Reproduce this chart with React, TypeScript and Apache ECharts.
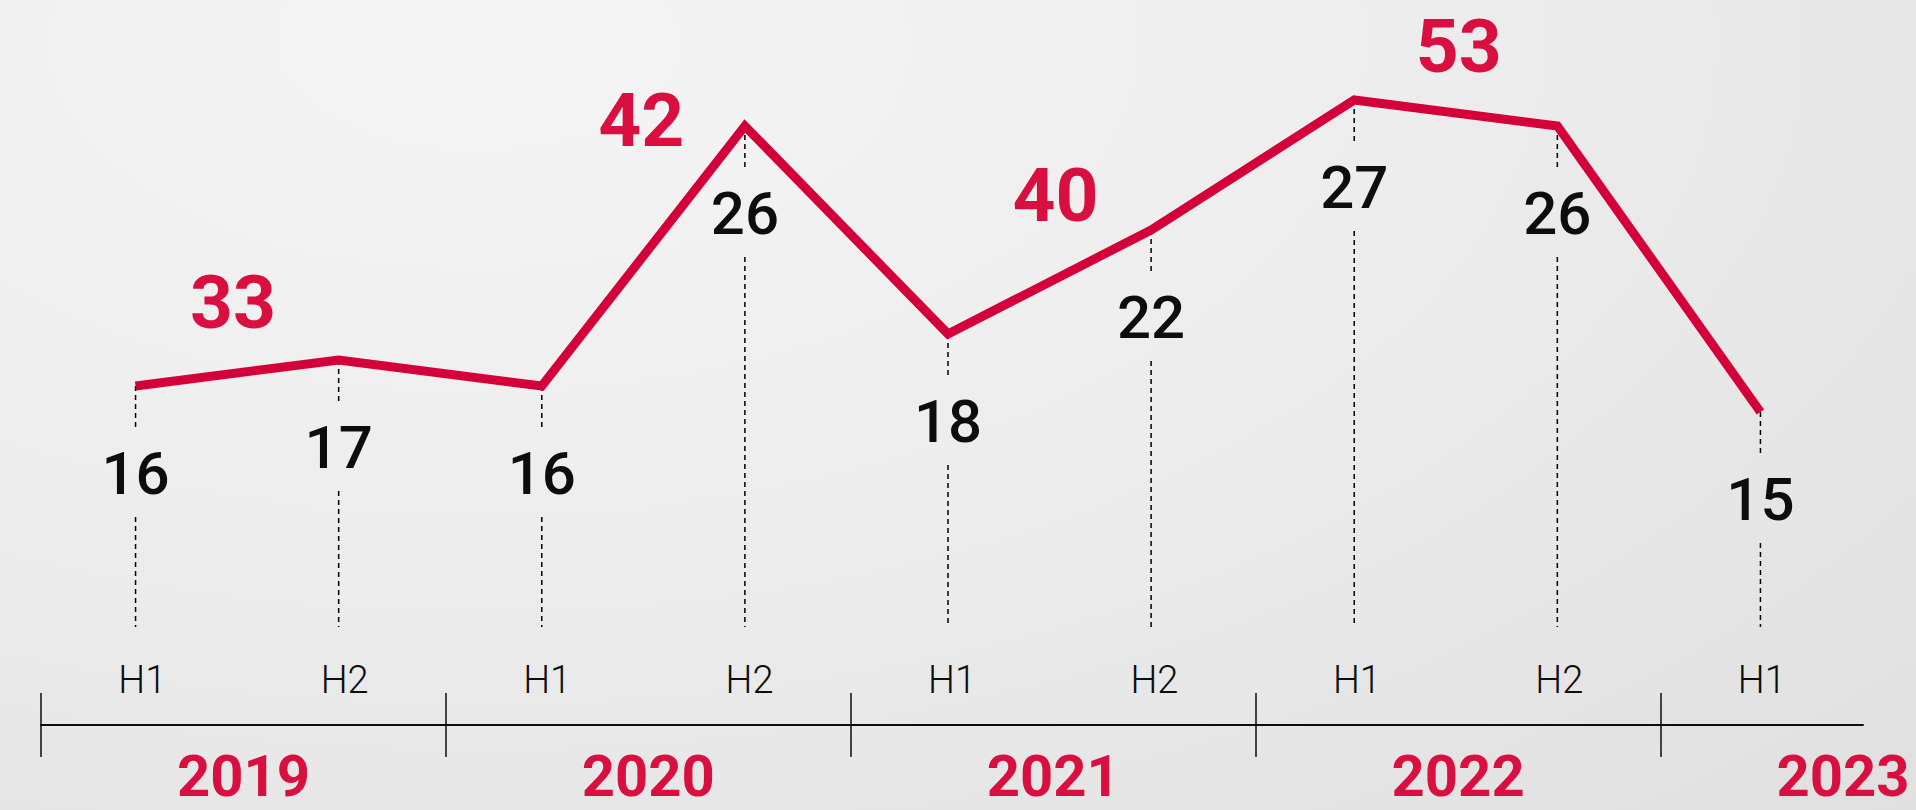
import React, { useEffect, useRef } from "react";
import * as echarts from "echarts";

// ---- data ----
const halfLabels = ["H1", "H2", "H1", "H2", "H1", "H2", "H1", "H2", "H1"];
const halfValues = [16, 17, 16, 26, 18, 22, 27, 26, 15];
const years = ["2019", "2020", "2021", "2022", "2023"];
const yearTotals = [33, 42, 40, 53];

// ---- style / layout ----
const RED_LINE = "#d4003a";
const RED_TEXT = "#d80f3f";
const INK = "#0d0d0d";
const totalLabelOffsets = [
  [-4, -71],
  [-2, -136],
  [6, -87],
  [3, -67],
];
const BASE_Y = 627; // where dashed drop lines end
const LABEL_DY = 87; // value label centre below the point
const GAP = 44; // half gap in dashed line around the label
const FONT = "Roboto, 'Noto Sans', sans-serif";

export default function App() {
  const ref = useRef<HTMLDivElement>(null);

  useEffect(() => {
    document.body.style.margin = "0";
    const chart = echarts.init(ref.current!, null, { renderer: "svg" });

    const pointData = halfValues.map((v, i) => [i, v]);
    const totalData = yearTotals.map((t, k) => ({
      value: [2 * k + 0.5, (halfValues[2 * k] + halfValues[2 * k + 1]) / 2, t],
      label: { offset: totalLabelOffsets[k] },
    }));

    const yearLabelStyle = {
      fontSize: 58,
      fontWeight: "bold",
      color: RED_TEXT,
      fontFamily: FONT,
    };

    chart.setOption({
      animation: false,
      grid: [
        { left: 34, right: 54, top: 22, bottom: 8 },
        { left: 41, right: 53, top: 693, bottom: 53 },
        { left: 41, right: 53, top: 700, bottom: 56 },
      ],
      xAxis: [
        { type: "category", gridIndex: 0, data: halfLabels, boundaryGap: true, show: false },
        { type: "value", gridIndex: 0, min: -0.5, max: 8.5, show: false },
        {
          type: "category",
          gridIndex: 1,
          data: halfLabels,
          position: "bottom",
          offset: -32,
          axisLine: { show: true, lineStyle: { color: INK, width: 2 } },
          axisTick: { show: false },
          axisLabel: {
            inside: true,
            margin: 26,
            color: INK,
            fontSize: 38,
            fontWeight: 300,
            fontFamily: "'Liberation Sans Narrow', " + FONT,
          },
          splitLine: {
            show: true,
            showMaxLine: false,
            interval: (i: number) => i % 2 === 0,
            lineStyle: { color: INK, width: 1.5 },
          },
        },
        {
          type: "value",
          gridIndex: 2,
          min: 0,
          max: 9,
          interval: 1,
          position: "bottom",
          axisLine: { show: false },
          axisTick: { show: false },
          splitLine: { show: false },
          axisLabel: {
            margin: -7,
            showMinLabel: true,
            showMaxLabel: true,
            hideOverlap: false,
            ...yearLabelStyle,
            formatter: (v: number) => {
              const k = (v - 1) / 2;
              if (!Number.isInteger(k) || k < 0 || k >= years.length) return "";
              return k === years.length - 1 ? `{last|${years[k]}}` : `{y|${years[k]}}`;
            },
            rich: {
              y: { ...yearLabelStyle },
              last: { ...yearLabelStyle, padding: [0, 40, 0, 0] },
            },
          },
        },
      ],
      yAxis: [
        { type: "value", gridIndex: 0, min: 0, max: 30, show: false },
        { type: "value", gridIndex: 1, min: 0, max: 1, show: false },
        { type: "value", gridIndex: 2, min: 0, max: 1, show: false },
      ],
      series: [
        {
          type: "custom",
          xAxisIndex: 0,
          yAxisIndex: 0,
          z: 1,
          silent: true,
          data: pointData,
          encode: { x: 0, y: 1 },
          renderItem: (_params: any, api: any) => {
            const idx = api.value(0);
            const val = api.value(1);
            const pt = api.coord([idx, val]);
            const x = pt[0];
            const y = pt[1];
            const yc = y + LABEL_DY;
            const dash = { stroke: "#000", lineWidth: 1.5, lineDash: [5, 4] };
            return {
              type: "group",
              children: [
                { type: "line", shape: { x1: x, y1: y, x2: x, y2: yc - GAP }, style: dash },
                { type: "line", shape: { x1: x, y1: yc + GAP, x2: x, y2: BASE_Y }, style: dash },
                {
                  type: "text",
                  x,
                  y: yc,
                  style: {
                    text: String(val),
                    fill: INK,
                    fontSize: 60,
                    fontWeight: 500,
                    fontFamily: FONT,
                    align: "center",
                    verticalAlign: "middle",
                  },
                },
              ],
            };
          },
        },
        {
          type: "line",
          xAxisIndex: 0,
          yAxisIndex: 0,
          z: 3,
          data: halfValues,
          symbol: "none",
          silent: true,
          lineStyle: { color: RED_LINE, width: 9, cap: "butt", join: "miter" },
        },
        {
          type: "scatter",
          xAxisIndex: 1,
          yAxisIndex: 0,
          z: 4,
          silent: true,
          symbolSize: 0,
          itemStyle: { opacity: 1 },
          data: totalData,
          label: {
            show: true,
            position: "inside",
            formatter: (p: any) => String(p.value[2]),
            fontSize: 75,
            fontWeight: "bold",
            color: RED_TEXT,
            fontFamily: FONT,
          },
        },
      ],
    });

    return () => chart.dispose();
  }, []);

  return (
    <div
      ref={ref}
      style={{
        width: 1916,
        height: 810,
        background:
          "radial-gradient(ellipse at 25% 5%, #f5f5f5 0%, #ededed 45%, #e0e0e0 100%)",
      }}
    />
  );
}
